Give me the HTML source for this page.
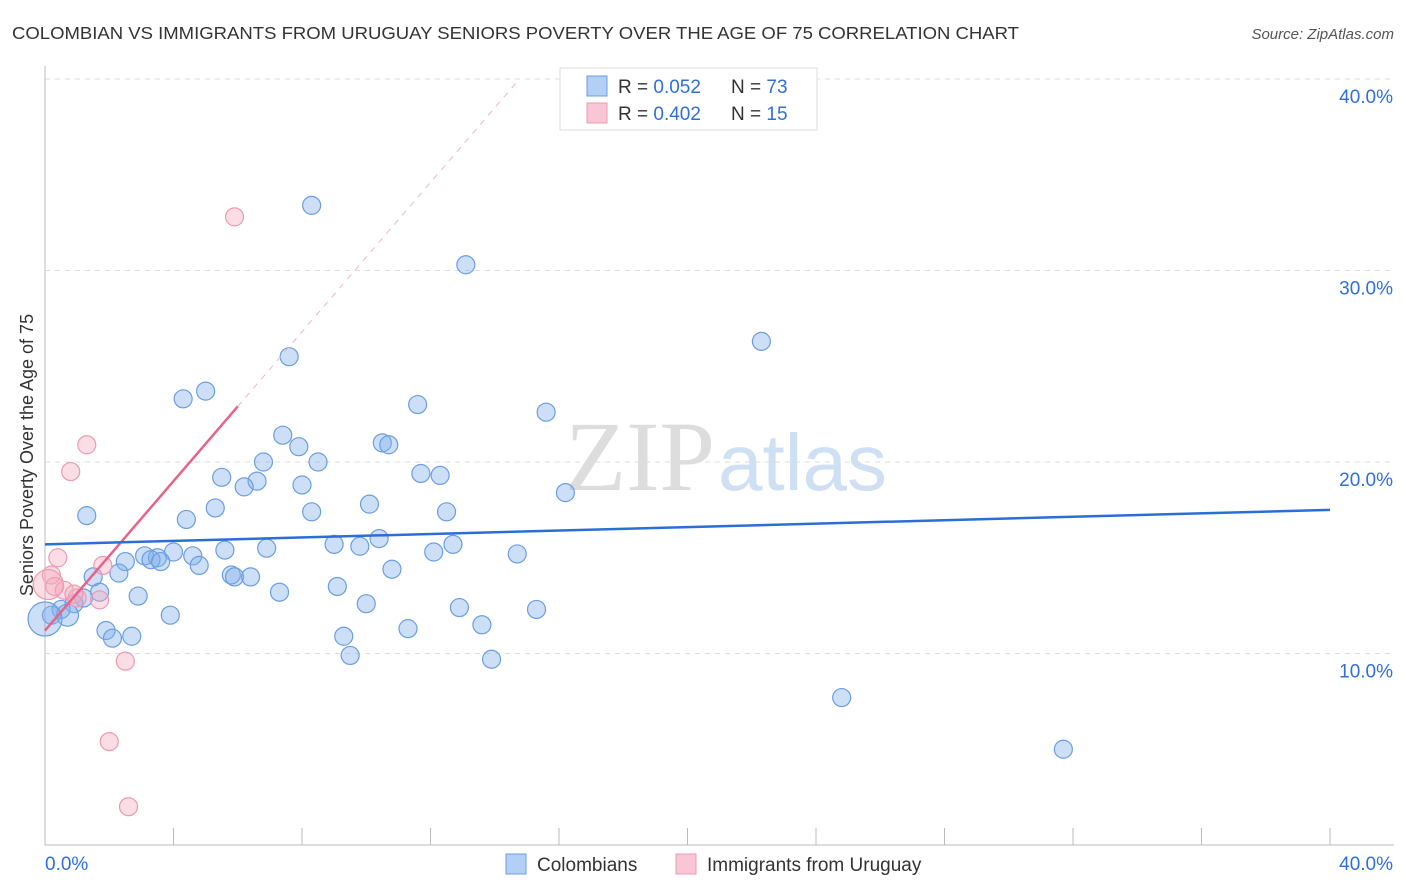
<!DOCTYPE html>
<html><head><meta charset="utf-8"><style>
body{margin:0;background:#fff;font-family:"Liberation Sans",sans-serif}
svg{display:block}
</style></head><body>
<svg id="c" width="1406" height="892">
<text x="12" y="39" font-size="17.5" fill="#333" textLength="1007" lengthAdjust="spacingAndGlyphs">COLOMBIAN VS IMMIGRANTS FROM URUGUAY SENIORS POVERTY OVER THE AGE OF 75 CORRELATION CHART</text>
<text x="1394" y="39" font-size="15" fill="#555" font-style="italic" text-anchor="end">Source: ZipAtlas.com</text>
<text x="33" y="455" font-size="18" fill="#333" text-anchor="middle" transform="rotate(-90 33 455)">Seniors Poverty Over the Age of 75</text>
<text x="715" y="490" font-size="100" fill="#ddd" font-family="Liberation Serif" text-anchor="end">ZIP</text>
<text x="718" y="490" font-size="80" fill="#cfe0f5">atlas</text>
<g id="grid"></g><g id="marks"></g>
<g>
<rect x="560" y="68" width="257" height="62" fill="#fff" stroke="#ddd"/>
<rect x="587" y="76" width="20" height="20" fill="#b3cff5" stroke="#6a9ee0"/>
<rect x="587" y="103" width="20" height="20" fill="#f8c6d4" stroke="#ec9ab1"/>
<text x="618" y="93" font-size="19" fill="#333">R = <tspan fill="#2f6fd6">0.052</tspan></text>
<text x="731" y="93" font-size="19" fill="#333">N = <tspan fill="#2f6fd6">73</tspan></text>
<text x="618" y="120" font-size="19" fill="#333">R = <tspan fill="#2f6fd6">0.402</tspan></text>
<text x="731" y="120" font-size="19" fill="#333">N = <tspan fill="#2f6fd6">15</tspan></text>
</g>
<g>
<rect x="506" y="854" width="20" height="20" fill="#b3cff5" stroke="#6a9ee0"/>
<text x="537" y="871" font-size="19" fill="#333">Colombians</text>
<rect x="676" y="854" width="20" height="20" fill="#f8c6d4" stroke="#ec9ab1"/>
<text x="707" y="871" font-size="19" fill="#333">Immigrants from Uruguay</text>
</g>
</svg>
<script>
const yTicks=[10,20,30,40];
const xTickLabels=["0.0%","40.0%"];
const blueX=[8.3,13.1,22.3,7.6,5.0,4.3,11.6,15.6,7.4,7.9,10.5,10.7,8.5,6.8,5.5,6.6,6.2,11.7,12.3,8.0,1.3,5.3,4.4,8.3,10.1,12.5,16.2,10.4,9.0,9.8,12.7,12.1,14.7,6.9,5.6,4.6,4.0,3.1,3.5,3.3,3.6,4.8,2.5,2.3,5.8,5.9,6.4,10.8,1.5,9.1,7.3,2.9,1.7,1.2,0.9,0.5,0.2,0.7,10.0,12.9,15.3,3.9,13.6,11.3,1.9,2.7,2.1,9.3,9.5,13.9,24.8,31.7,0.0];
const blueY=[33.4,30.3,26.3,25.5,23.7,23.3,23.0,22.6,21.4,20.8,21.0,20.9,20.0,20.0,19.2,19.0,18.7,19.4,19.3,18.8,17.2,17.6,17.0,17.4,17.8,17.4,18.4,16.0,15.7,15.6,15.7,15.3,15.2,15.5,15.4,15.1,15.3,15.1,15.0,14.9,14.8,14.6,14.8,14.2,14.1,14.0,14.0,14.4,14.0,13.5,13.2,13.0,13.2,12.9,12.6,12.3,12.0,12.0,12.6,12.4,12.3,12.0,11.5,11.3,11.2,10.9,10.8,10.9,9.9,9.7,7.7,5.0,11.8];
const blueR=[9,9,9,9,9,9,9,9,9,9,9,9,9,9,9,9,9,9,9,9,9,9,9,9,9,9,9,9,9,9,9,9,9,9,9,9,9,9,9,9,9,9,9,9,9,9,9,9,9,9,9,9,9,9,9,9,9,11,9,9,9,9,9,9,9,9,9,9,9,9,9,9,17];
const pinkX=[5.9,1.3,0.8,0.4,1.8,0.2,0.3,0.6,1.0,1.7,0.9,2.5,2.0,2.6,0.1];
const pinkY=[32.8,20.9,19.5,15.0,14.6,14.1,13.5,13.3,12.9,12.8,13.1,9.6,5.4,2.0,13.6];
const pinkR=[9,9,9,9,9,9,9,9,9,9,9,9,9,9,15];
const blueLine=[15.7,17.5], pinkLine=[11.2,22.9], pinkLineX=6.0;
const X=v=>45+v/40*1285, Y=v=>845-v*19.15;
const NS="http://www.w3.org/2000/svg";
function mk(t,a,p){const e=document.createElementNS(NS,t);for(const k in a)e.setAttribute(k,a[k]);p.appendChild(e);return e;}
const g=document.getElementById('grid'),m=document.getElementById('marks');
yTicks.forEach(t=>{const l=mk('line',{x1:45,x2:1394,y1:Y(t),y2:Y(t),stroke:'#ddd','stroke-dasharray':'5,5'},g);


const tx=mk('text',{x:1393,y:Y(t)+24,'font-size':19,fill:'#2f6fd6','text-anchor':'end'},g);tx.textContent=t.toFixed(1)+'%';

});
const ax=mk('line',{x1:45,x2:45,y1:66,y2:845,stroke:'#bbb'},g);


const bx=mk('line',{x1:45,x2:1394,y1:845,y2:845,stroke:'#bbb'},g);


for(let i=1;i<=10;i++){const tk=mk('line',{x1:X(i*4),x2:X(i*4),y1:828,y2:845,stroke:'#bbb'},g);

}
xTickLabels.forEach((s,i)=>{const tx=mk('text',{x:i?1393:45,y:870,'font-size':19,fill:'#2f6fd6','text-anchor':i?'end':'start'},g);tx.textContent=s;

});
blueX.forEach((x,i)=>{const c=mk('circle',{cx:X(x),cy:Y(blueY[i]),r:blueR[i],fill:'rgba(130,175,235,0.4)',stroke:'#6a9ee0','stroke-width':1.2},m);

});
pinkX.forEach((x,i)=>{const c=mk('circle',{cx:X(x),cy:Y(pinkY[i]),r:pinkR[i],fill:'rgba(245,170,190,0.4)',stroke:'#ec9ab1','stroke-width':1.2},m);

});
const sl=(pinkLine[1]-pinkLine[0])/pinkLineX, xEnd=(40-pinkLine[0])/sl;
const pd=mk('line',{x1:X(pinkLineX),y1:Y(pinkLine[1]),x2:X(xEnd),y2:Y(40),stroke:'#f0b5c5','stroke-dasharray':'6,6'},m);


const pl=mk('line',{x1:X(0),y1:Y(pinkLine[0]),x2:X(pinkLineX),y2:Y(pinkLine[1]),stroke:'#e8628a','stroke-width':2.5},m);


const bl=mk('line',{x1:X(0),y1:Y(blueLine[0]),x2:X(40),y2:Y(blueLine[1]),stroke:'#2a6fd6','stroke-width':2.5},m);


</script>
</body></html>
